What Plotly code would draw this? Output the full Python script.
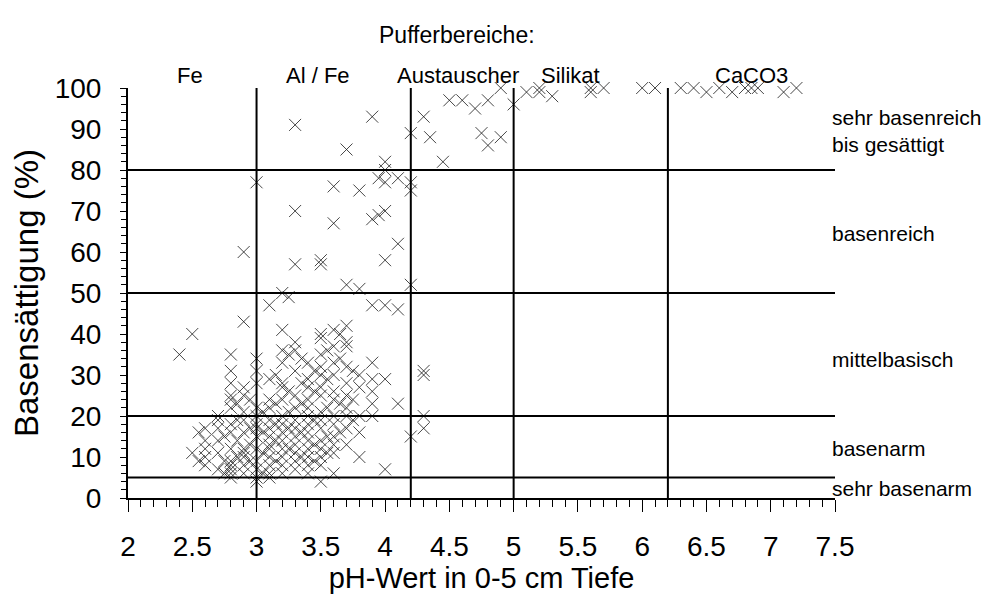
import plotly.graph_objects as go

# pH values (x) and base saturation (%) (y), grouped by pH column
cols = {
    2.4: [35],
    2.5: [40, 11],
    2.55: [16, 9],
    2.6: [14, 12, 10, 8, 17],
    2.7: [20, 17, 14, 11, 7, 19],
    2.75: [15, 9, 6],
    2.8: [35, 31, 28, 25, 24, 22, 18, 16, 12, 9, 8, 7, 6, 5],
    2.85: [23, 19, 14, 10],
    2.9: [60, 43, 27, 25, 21, 19, 16, 12, 11, 10, 8, 6],
    2.95: [24, 17, 13, 9],
    3.0: [77, 34, 31, 28, 22, 20, 18, 17, 15, 12, 9, 7, 5, 4],
    3.05: [21, 16, 11, 6],
    3.1: [47, 29, 24, 22, 19, 17, 15, 13, 12, 10, 8, 6, 5],
    3.15: [30, 23, 18, 14, 9],
    3.2: [50, 41, 36, 33, 28, 27, 24, 20, 18, 16, 14, 12, 10, 8, 6],
    3.25: [49, 35, 26, 21, 17, 12],
    3.3: [91, 70, 57, 38, 36, 31, 25, 22, 19, 17, 15, 13, 11, 9, 7],
    3.35: [34, 28, 23, 16, 10],
    3.4: [33, 29, 27, 24, 22, 20, 18, 16, 14, 12, 10, 8, 6],
    3.45: [31, 26, 19, 13, 9],
    3.5: [58, 57, 40, 39, 35, 32, 30, 27, 25, 21, 19, 17, 14, 12, 10, 8, 4],
    3.55: [36, 29, 22, 15, 11],
    3.6: [76, 67, 41, 37, 33, 30, 26, 24, 20, 18, 15, 13, 11, 6],
    3.65: [40, 34, 23, 16],
    3.7: [85, 52, 42, 38, 37, 32, 28, 25, 22, 20, 17, 13],
    3.75: [31, 24, 19],
    3.8: [75, 51, 30, 27, 20, 16, 10],
    3.9: [93, 68, 47, 33, 29, 26, 23, 20],
    3.95: [69, 78],
    4.0: [82, 80, 77, 70, 58, 47, 29, 7],
    4.1: [78, 62, 46, 23],
    4.2: [89, 77, 75, 52, 15],
    4.3: [93, 31, 30, 20, 17],
    4.35: [88],
    4.45: [82],
    4.5: [97],
    4.6: [97],
    4.7: [95],
    4.75: [89],
    4.8: [97, 86],
    4.9: [100, 88],
    5.0: [96],
    5.1: [99],
    5.2: [100, 99],
    5.3: [98],
    5.6: [100, 99],
    5.7: [100],
    6.0: [100],
    6.1: [100],
    6.3: [100],
    6.4: [100],
    6.5: [99],
    6.6: [100],
    6.7: [99],
    6.8: [100],
    6.85: [100],
    6.9: [100],
    7.1: [99],
    7.2: [100],
}

ph = []
bs = []
for k, vals in cols.items():
    for v in vals:
        ph.append(k)
        bs.append(v)

h_lines = [5, 20, 50, 80]
v_lines = [3.0, 4.2, 5.0, 6.2]

buffer_labels = ["Fe", "Al / Fe", "Austauscher", "Silikat", "CaCO3"]
buffer_pos = [2.48, 3.48, 4.57, 5.44, 6.85]

class_labels = ["sehr basenreich<br>bis gesättigt", "basenreich", "mittelbasisch", "basenarm", "sehr basenarm"]
class_pos = [89.6, 64.4, 33.9, 12.0, 2.4]

FONT = "Liberation Sans, Arial"
PLOT_TOP, PLOT_BOTTOM = 88, 498
PLOT_H = PLOT_BOTTOM - PLOT_TOP

fig = go.Figure()
fig.add_trace(go.Scatter(
    x=ph, y=bs, mode="markers",
    marker=dict(symbol="x-thin-open", size=12, color="rgba(25,25,25,0.8)",
                line=dict(width=1, color="rgba(25,25,25,0.8)")),
    cliponaxis=False, showlegend=False,
))

for h in h_lines:
    fig.add_shape(type="line", xref="x", yref="y", x0=2, x1=7.5, y0=h, y1=h,
                  line=dict(color="black", width=2))
for v in v_lines:
    fig.add_shape(type="line", xref="x", yref="y", x0=v, x1=v, y0=0, y1=100,
                  line=dict(color="black", width=2))

fig.add_annotation(text="Pufferbereiche:", xref="paper", yref="paper", x=(457-128)/707,
                   y=(PLOT_BOTTOM-20)/PLOT_H, showarrow=False,
                   font=dict(size=23, family=FONT, color="black"))
for lab, p in zip(buffer_labels, buffer_pos):
    fig.add_annotation(text=lab, xref="x", yref="paper", x=p, y=(PLOT_BOTTOM-61)/PLOT_H,
                       showarrow=False, font=dict(size=22, family=FONT, color="black"))
for lab, p in zip(class_labels, class_pos):
    fig.add_annotation(text=lab, xref="paper", yref="y", x=0.993, y=p, xanchor="left", align="left",
                       showarrow=False, font=dict(size=21, family=FONT, color="black"))

fig.update_layout(
    width=1004, height=598,
    margin=dict(l=128, r=169, t=PLOT_TOP, b=598-PLOT_BOTTOM),
    paper_bgcolor="white", plot_bgcolor="white",
    font=dict(family=FONT, color="black"),
    xaxis=dict(
        range=[2, 7.5], dtick=0.5, tick0=2, showgrid=False, zeroline=False, automargin=False,
        showline=True, linecolor="black", linewidth=2,
        ticks="outside", ticklen=12, tickwidth=1, tickcolor="black",
        minor=dict(dtick=0.1, ticks="outside", ticklen=7, tickcolor="black", tickwidth=1),
        tickfont=dict(size=28), ticklabelstandoff=10,
        title=dict(text="pH-Wert in 0-5 cm Tiefe", font=dict(size=29), standoff=6),
    ),
    yaxis=dict(
        range=[0, 100], dtick=10, showgrid=False, zeroline=False, automargin=False,
        showline=True, linecolor="black", linewidth=2,
        ticks="outside", ticklen=6, tickwidth=1, tickcolor="black",
        minor=dict(dtick=2, ticks="outside", ticklen=5, tickcolor="black", tickwidth=1),
        tickfont=dict(size=28), ticklabelstandoff=13,
        title=dict(text="Basensättigung (%)", font=dict(size=33), standoff=6),
    ),
)

fig.write_html("out.html")
